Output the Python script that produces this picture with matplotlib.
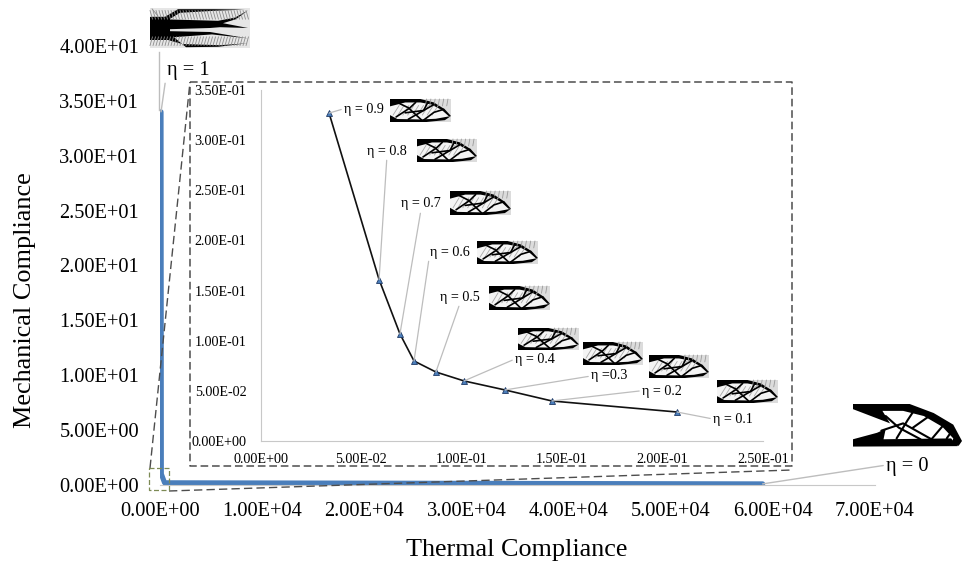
import matplotlib
matplotlib.use("Agg")
import matplotlib.pyplot as plt
from matplotlib.patches import Polygon, Rectangle

plt.rcParams["font.family"] = ["Liberation Serif", "DejaVu Serif"]

W, H = 967, 566

# main curve
thermal = [100, 130, 450, 59000]
mechanical = [34.0, 1.0, 0.2, 0.1]
main_xticks = [0, 10000, 20000, 30000, 40000, 50000, 60000, 70000]
main_xlabels = ["0.00E+00", "1.00E+04", "2.00E+04", "3.00E+04", "4.00E+04", "5.00E+04", "6.00E+04", "7.00E+04"]
main_yticks = [0, 5, 10, 15, 20, 25, 30, 35, 40]
main_ylabels = ["0.00E+00", "5.00E+00", "1.00E+01", "1.50E+01", "2.00E+01", "2.50E+01", "3.00E+01", "3.50E+01", "4.00E+01"]

# zoomed curve, eta 0.9 down to 0.1
zoom_eta = ["η = 0.9", "η = 0.8", "η = 0.7", "η = 0.6", "η = 0.5", "η = 0.4", "η =0.3", "η = 0.2", "η = 0.1"]
zoom_thermal = [0.0339, 0.0588, 0.0692, 0.0762, 0.0871, 0.1011, 0.1215, 0.1449, 0.2072]
zoom_mechanical = [0.327, 0.161, 0.1068, 0.0798, 0.0688, 0.0599, 0.0509, 0.0399, 0.0289]
zoom_xticks = [0, 0.05, 0.10, 0.15, 0.20, 0.25]
zoom_xlabels = ["0.00E+00", "5.00E-02", "1.00E-01", "1.50E-01", "2.00E-01", "2.50E-01"]
zoom_yticks = [0, 0.05, 0.10, 0.15, 0.20, 0.25, 0.30, 0.35]
zoom_ylabels = ["0.00E+00", "5.00E-02", "1.00E-01", "1.50E-01", "2.00E-01", "2.50E-01", "3.00E-01", "3.50E-01"]

# label left/centre pixel, and which side of the label the leader leaves from
zoom_label_px = [(344, 110), (367, 151), (401, 204), (430, 252), (440, 297), (515, 359), (591, 376), (642, 392), (713, 419)]
zoom_label_rel = [(0, 0.6), (0.5, 0), (0.5, 0), (0, 0.5), (0.5, 0), (0, 0.5), (0, 0.5), (0, 0.6), (0, 0.5)]

# topology thumbnails, pixel boxes (left, top, right, bottom)
lens_boxes = [
    (390, 99, 451, 122), (417, 139, 477, 162), (450, 191, 511, 215), (477, 241, 538, 264),
    (489, 286, 550, 310), (518, 328, 579, 350), (583, 342, 643, 365), (649, 355, 709, 378),
    (717, 380, 778, 403),
]
lens_outline = [(0, 1), (0.5, 1), (0.72, 0.85), (0.9, 0.55), (1.0, 0.26), (0.9, 0.08), (0.6, 0), (0, 0)]
lens_top_band = [(0, 1), (0.5, 1), (0.72, 0.85), (0.9, 0.55), (1.0, 0.26), (0.96, 0.26), (0.85, 0.52),
                 (0.68, 0.76), (0.5, 0.85), (0.25, 0.85), (0.0, 0.68)]
lens_bottom_band = [(0, 0.3), (0.12, 0.13), (0.5, 0.11), (0.75, 0.14), (1.0, 0.26), (0.9, 0.08), (0.6, 0), (0, 0)]
lens_struts = [
    [(0.12, 0.85), (0.3, 0.62), (0.52, 0.08)],
    [(0.1, 0.22), (0.32, 0.6), (0.42, 0.85)],
    [(0.3, 0.12), (0.55, 0.5), (0.72, 0.76)],
    [(0.55, 0.08), (0.72, 0.42), (0.88, 0.55)],
    [(0.25, 0.4), (0.55, 0.5), (0.62, 0.85)],
]
stiff_top = [(0, 0.78), (0.15, 0.78), (0.28, 0.97), (0.64, 0.97), (0.95, 0.96), (0.64, 0.93), (0.3, 0.88), (0.18, 0.7)]
stiff_mid = [(0.1, 0.72), (0.68, 0.68), (0.85, 0.76), (0.98, 0.94), (0.86, 0.72), (0.73, 0.62), (0.98, 0.5),
             (0.7, 0.52), (0.6, 0.5), (0.2, 0.47), (0.1, 0.47)]
stiff_low = [(0, 0.5), (0.2, 0.42), (0.6, 0.4), (0.98, 0.24), (0.62, 0.34), (0.24, 0.27), (0.36, 0.02), (0.68, 0.03),
             (0.98, 0.12), (0.7, 0.07), (0.32, 0.1), (0.18, 0.2), (0, 0.2)]
thermal_top = [(0, 1), (0.52, 1), (0.74, 0.79), (0.92, 0.52), (1.0, 0.14), (0.97, 0.03), (0.9, 0.03), (0.92, 0.2),
               (0.82, 0.47), (0.65, 0.72), (0.46, 0.84), (0.27, 0.84), (0.34, 0.55), (0, 0.88)]
thermal_bottom = [(0, 0.18), (0.22, 0.33), (0.3, 0.42), (0.28, 0.18), (0.9, 0.2), (0.96, 0.02), (0, 0.01)]
thermal_struts = [
    [(0.3, 0.72), (0.42, 0.45), (0.62, 0.18)],
    [(0.26, 0.38), (0.46, 0.55), (0.72, 0.18)],
    [(0.4, 0.2), (0.5, 0.62), (0.56, 0.85)],
    [(0.55, 0.45), (0.7, 0.72)],
    [(0.72, 0.18), (0.82, 0.48)],
    [(0.86, 0.2), (0.92, 0.42)],
]


def to_px(box, pts):
    x0, y0, x1, y1 = box
    return [(x0 + u * (x1 - x0), y1 - v * (y1 - y0)) for u, v in pts]


def draw_path(ax, box, pts, lw, color="black"):
    p = to_px(box, pts)
    ax.plot([a for a, b in p], [b for a, b in p], color=color, lw=lw, solid_capstyle="round")


def fill(ax, box, pts, color="black"):
    ax.add_patch(Polygon(to_px(box, pts), color=color, lw=0))


def draw_lens(ax, box):
    ax.add_patch(Rectangle((box[0], box[1]), box[2] - box[0], box[3] - box[1], color="#dcdcdc", lw=0))
    fill(ax, box, lens_outline, "#f4f4f4")
    for u in [0.6, 0.67, 0.74, 0.81, 0.88, 0.95]:
        draw_path(ax, box, [(u, 1.0), (u - 0.02, 0.7)], 0.6, "#9a9a9a")
    for u in [0.05, 0.13, 0.21, 0.29, 0.37, 0.45, 0.53, 0.61, 0.69]:
        draw_path(ax, box, [(u, 0.3), (u + 0.1, 0.72)], 0.6, "#a8a8a8")
    fill(ax, box, lens_top_band)
    fill(ax, box, lens_bottom_band)
    for strut in lens_struts:
        draw_path(ax, box, strut, 1.2)


def draw_stiff(ax, box):
    # eta = 1, forked cantilever on a hatched background
    ax.add_patch(Rectangle((box[0], box[1]), box[2] - box[0], box[3] - box[1], color="#e6e6e6", lw=0))
    for i in range(33):
        u = 0.03 * i
        draw_path(ax, box, [(u, 0.94), (u + 0.025, 0.72)], 0.6, "#8c8c8c")
        draw_path(ax, box, [(u, 0.06), (u + 0.025, 0.28)], 0.6, "#8c8c8c")
    draw_path(ax, box, [(0.02, 0.98), (0.08, 0.8)], 0.6, "#8c8c8c")
    fill(ax, box, stiff_top)
    fill(ax, box, stiff_mid)
    fill(ax, box, stiff_low)
    ax.add_patch(Rectangle((box[0], to_px(box, [(0, 0.78)])[0][1]), 0.2 * (box[2] - box[0]), 0.58 * (box[3] - box[1]),
                           color="black", lw=0))


def draw_thermal(ax, box):
    # eta = 0, heavy truss, no hatching
    fill(ax, box, thermal_top)
    fill(ax, box, thermal_bottom)
    for strut in thermal_struts:
        draw_path(ax, box, strut, 1.5)


fig = plt.figure(figsize=(W / 100, H / 100), dpi=100)


def axes_px(left, top, right, bottom, **kw):
    return fig.add_axes([left / W, 1 - bottom / H, (right - left) / W, (bottom - top) / H], **kw)


# main chart
ax = axes_px(160, 46, 875, 485)
ax.plot(thermal, mechanical, color="#4a7ebb", lw=3.7, solid_joinstyle="round", solid_capstyle="round")
ax.set_xlim(0, 70000)
ax.set_ylim(0, 40)
ax.set_xticks(main_xticks, main_xlabels, fontsize=14.7)
ax.set_yticks(main_yticks, main_ylabels, fontsize=14.7)
ax.tick_params(length=0)
ax.tick_params(axis="x", pad=12.5)
ax.tick_params(axis="y", pad=15)
for side in ["top", "right", "left"]:
    ax.spines[side].set_visible(False)
ax.spines["bottom"].set_color("#c8c8c8")
ax.patch.set_alpha(0)

leader = dict(arrowstyle="-", color="#bdbdbd", lw=1.0, shrinkA=0, shrinkB=0)


def px_frac(px, py):
    return px / W, 1 - py / H


ax.annotate("η = 1", xy=(thermal[0], mechanical[0]), xycoords="data", xytext=px_frac(167, 71),
            textcoords="figure fraction", fontsize=14.7, ha="left", va="center",
            arrowprops=dict(leader, relpos=(0, 0.55)))
ax.annotate("η = 0", xy=(thermal[-1], mechanical[-1]), xycoords="data", xytext=px_frac(886, 467),
            textcoords="figure fraction", fontsize=14.7, ha="left", va="center",
            arrowprops=dict(leader, relpos=(0, 0.6)))

# zoomed chart
inset = axes_px(261, 90, 763, 441)
inset.plot(zoom_thermal, zoom_mechanical, color="#111111", lw=1.2, marker="^", ms=4,
           mfc="#4a7ebb", mec="#1f3a66", mew=0.6)
inset.set_xlim(0, 0.25)
inset.set_ylim(0, 0.35)
inset.set_xticks(zoom_xticks, zoom_xlabels, fontsize=10.2)
inset.set_yticks(zoom_yticks, zoom_ylabels, fontsize=10.2)
inset.tick_params(length=0)
inset.tick_params(axis="x", pad=8.5)
inset.tick_params(axis="y", pad=10.5)
for side in ["top", "right"]:
    inset.spines[side].set_visible(False)
inset.spines["left"].set_color("#c8c8c8")
inset.spines["bottom"].set_color("#c8c8c8")
inset.patch.set_alpha(0)

for i in range(len(zoom_eta)):
    inset.annotate(zoom_eta[i], xy=(zoom_thermal[i], zoom_mechanical[i]), xycoords="data",
                   xytext=px_frac(*zoom_label_px[i]), textcoords="figure fraction",
                   fontsize=10.2, ha="left", va="center",
                   arrowprops=dict(leader, relpos=zoom_label_rel[i], lw=0.9))

# overlay in pixel units for the frames and thumbnails
over = fig.add_axes([0, 0, 1, 1], zorder=5)
over.set_xlim(0, W)
over.set_ylim(H, 0)
over.axis("off")
over.patch.set_alpha(0)

box_col = "#4d4d4d"
over.plot([190, 792, 792, 190, 190], [82, 82, 466, 466, 82], color=box_col, lw=1.1, ls=(0, (5, 2.5)))
over.plot([150, 190], [468, 82], color=box_col, lw=1.0, ls=(0, (6, 3)))
over.plot([169, 792], [491, 470], color=box_col, lw=1.0, ls=(0, (6, 3)))
over.plot([149, 169, 169, 149, 149], [468, 468, 490, 490, 468], color="#7d8a55", lw=0.9, ls=(0, (4, 2)))
over.plot([159, 159], [52, 110], color="#bdbdbd", lw=1.0)

for box in lens_boxes:
    draw_lens(over, box)
draw_stiff(over, (150, 8, 250, 48))
draw_thermal(over, (853, 404, 962, 447))

over.text(25, 300, "Mechanical Compliance", rotation=90, fontsize=18.9, ha="center", va="center")
over.text(517, 550, "Thermal Compliance", fontsize=18.8, ha="center", va="center")

fig.savefig("out.png", dpi=100)
